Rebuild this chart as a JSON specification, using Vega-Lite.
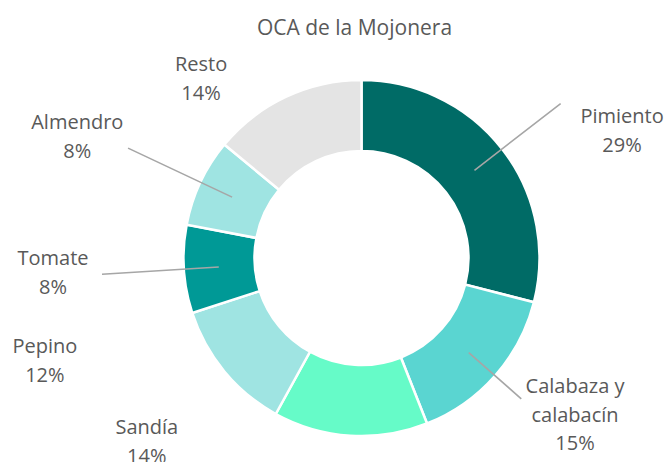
{
  "$schema": "https://vega.github.io/schema/vega-lite/v6.json",
  "width": 615,
  "height": 408,
  "autosize": {"type": "none"},
  "padding": {"left": 54, "top": 54, "right": 0, "bottom": 0},
  "background": "white",
  "title": {"text": "OCA de la Mojonera", "font": "Open Sans", "fontSize": 21, "fontWeight": "normal", "color": "#595959", "anchor": "middle", "frame": "group", "baseline": "alphabetic", "offset": -2, "dx": -7},
  "config": {"view": {"stroke": null}},
  "data": {"values": [
    {"cat": "Pimiento", "pct": 29},
    {"cat": "Calabaza y calabacín", "pct": 15},
    {"cat": "Sandía", "pct": 14},
    {"cat": "Pepino", "pct": 12},
    {"cat": "Tomate", "pct": 8},
    {"cat": "Almendro", "pct": 8},
    {"cat": "Resto", "pct": 14}
  ]},
  "transform": [
    {"window": [{"op": "sum", "field": "pct", "as": "fin"}], "frame": [null, 0], "ignorePeers": true},
    {"calculate": "datum.fin - datum.pct", "as": "ini"},
    {"calculate": "datum.fin - datum.pct / 2", "as": "medio"},
    {"calculate": "replace(datum.cat, 'y ', 'y\\n') + '\\n' + datum.pct + '%'", "as": "etiqueta"}
  ],
  "layer": [
    {
      "mark": {"type": "arc", "radius": 178, "radius2": 107, "stroke": "white", "strokeWidth": 2.5},
      "encoding": {
        "theta": {"field": "ini", "type": "quantitative", "stack": null, "scale": {"domain": [0, 100], "range": [0, 6.283185307179586]}},
        "theta2": {"field": "fin"},
        "color": {"field": "cat", "type": "nominal", "legend": null, "scale": {
          "domain": ["Pimiento", "Calabaza y calabacín", "Sandía", "Pepino", "Tomate", "Almendro", "Resto"],
          "range": ["#006B66", "#5AD5D1", "#66FBC8", "#9FE4E2", "#009996", "#9FE4E2", "#E4E4E4"]}}
      }
    },
    {
      "transform": [{"filter": {"field": "cat", "equal": "Pimiento"}}],
      "mark": {"type": "arc", "radius": 252, "radius2": 143, "fillOpacity": 0, "stroke": "#A6A6A6", "strokeWidth": 1.6},
      "encoding": {"theta": {"field": "medio", "type": "quantitative", "stack": null, "scale": {"domain": [0, 100], "range": [0, 6.283185307179586]}}, "theta2": {"field": "medio"}}
    },
    {
      "transform": [{"filter": {"field": "cat", "equal": "Calabaza y calabacín"}}],
      "mark": {"type": "arc", "radius": 213, "radius2": 143, "fillOpacity": 0, "stroke": "#A6A6A6", "strokeWidth": 1.6},
      "encoding": {"theta": {"field": "medio", "type": "quantitative", "stack": null, "scale": {"domain": [0, 100], "range": [0, 6.283185307179586]}}, "theta2": {"field": "medio"}}
    },
    {
      "transform": [{"filter": {"field": "cat", "equal": "Tomate"}}],
      "mark": {"type": "arc", "radius": 260, "radius2": 143, "fillOpacity": 0, "stroke": "#A6A6A6", "strokeWidth": 1.6},
      "encoding": {"theta": {"field": "medio", "type": "quantitative", "stack": null, "scale": {"domain": [0, 100], "range": [0, 6.283185307179586]}}, "theta2": {"field": "medio"}}
    },
    {
      "transform": [{"filter": {"field": "cat", "equal": "Almendro"}}],
      "mark": {"type": "arc", "radius": 258, "radius2": 143, "fillOpacity": 0, "stroke": "#A6A6A6", "strokeWidth": 1.6},
      "encoding": {"theta": {"field": "medio", "type": "quantitative", "stack": null, "scale": {"domain": [0, 100], "range": [0, 6.283185307179586]}}, "theta2": {"field": "medio"}}
    },
    {
      "transform": [{"filter": {"field": "cat", "equal": "Pimiento"}}],
      "mark": {"type": "text", "radius": 250, "dx": 63, "dy": 12, "font": "Open Sans", "fontSize": 20, "fill": "#595959", "align": "center", "baseline": "middle", "lineBreak": "\n", "lineHeight": 29},
      "encoding": {"theta": {"field": "medio", "type": "quantitative", "stack": null, "scale": {"domain": [0, 100], "range": [0, 6.283185307179586]}}, "text": {"field": "etiqueta"}}
    },
    {
      "transform": [{"filter": {"field": "cat", "equal": "Calabaza y calabacín"}}],
      "mark": {"type": "text", "radius": 250, "dx": 26, "dy": -36, "font": "Open Sans", "fontSize": 20, "fill": "#595959", "align": "center", "baseline": "middle", "lineBreak": "\n", "lineHeight": 28.5},
      "encoding": {"theta": {"field": "medio", "type": "quantitative", "stack": null, "scale": {"domain": [0, 100], "range": [0, 6.283185307179586]}}, "text": {"field": "etiqueta"}}
    },
    {
      "transform": [{"filter": {"field": "cat", "equal": "Sandía"}}],
      "mark": {"type": "text", "radius": 250, "dx": -199, "dy": -80, "font": "Open Sans", "fontSize": 20, "fill": "#595959", "align": "center", "baseline": "middle", "lineBreak": "\n", "lineHeight": 29},
      "encoding": {"theta": {"field": "medio", "type": "quantitative", "stack": null, "scale": {"domain": [0, 100], "range": [0, 6.283185307179586]}}, "text": {"field": "etiqueta"}}
    },
    {
      "transform": [{"filter": {"field": "cat", "equal": "Pepino"}}],
      "mark": {"type": "text", "radius": 250, "dx": -124, "dy": -70, "font": "Open Sans", "fontSize": 20, "fill": "#595959", "align": "center", "baseline": "middle", "lineBreak": "\n", "lineHeight": 29},
      "encoding": {"theta": {"field": "medio", "type": "quantitative", "stack": null, "scale": {"domain": [0, 100], "range": [0, 6.283185307179586]}}, "text": {"field": "etiqueta"}}
    },
    {
      "transform": [{"filter": {"field": "cat", "equal": "Tomate"}}],
      "mark": {"type": "text", "radius": 250, "dx": -59, "dy": -15, "font": "Open Sans", "fontSize": 20, "fill": "#595959", "align": "center", "baseline": "middle", "lineBreak": "\n", "lineHeight": 29},
      "encoding": {"theta": {"field": "medio", "type": "quantitative", "stack": null, "scale": {"domain": [0, 100], "range": [0, 6.283185307179586]}}, "text": {"field": "etiqueta"}}
    },
    {
      "transform": [{"filter": {"field": "cat", "equal": "Almendro"}}],
      "mark": {"type": "text", "radius": 250, "dx": -58, "dy": -29, "font": "Open Sans", "fontSize": 20, "fill": "#595959", "align": "center", "baseline": "middle", "lineBreak": "\n", "lineHeight": 29},
      "encoding": {"theta": {"field": "medio", "type": "quantitative", "stack": null, "scale": {"domain": [0, 100], "range": [0, 6.283185307179586]}}, "text": {"field": "etiqueta"}}
    },
    {
      "transform": [{"filter": {"field": "cat", "equal": "Resto"}}],
      "mark": {"type": "text", "radius": 250, "dx": -54, "dy": 33, "font": "Open Sans", "fontSize": 20, "fill": "#595959", "align": "center", "baseline": "middle", "lineBreak": "\n", "lineHeight": 29},
      "encoding": {"theta": {"field": "medio", "type": "quantitative", "stack": null, "scale": {"domain": [0, 100], "range": [0, 6.283185307179586]}}, "text": {"field": "etiqueta"}}
    }
  ]
}
